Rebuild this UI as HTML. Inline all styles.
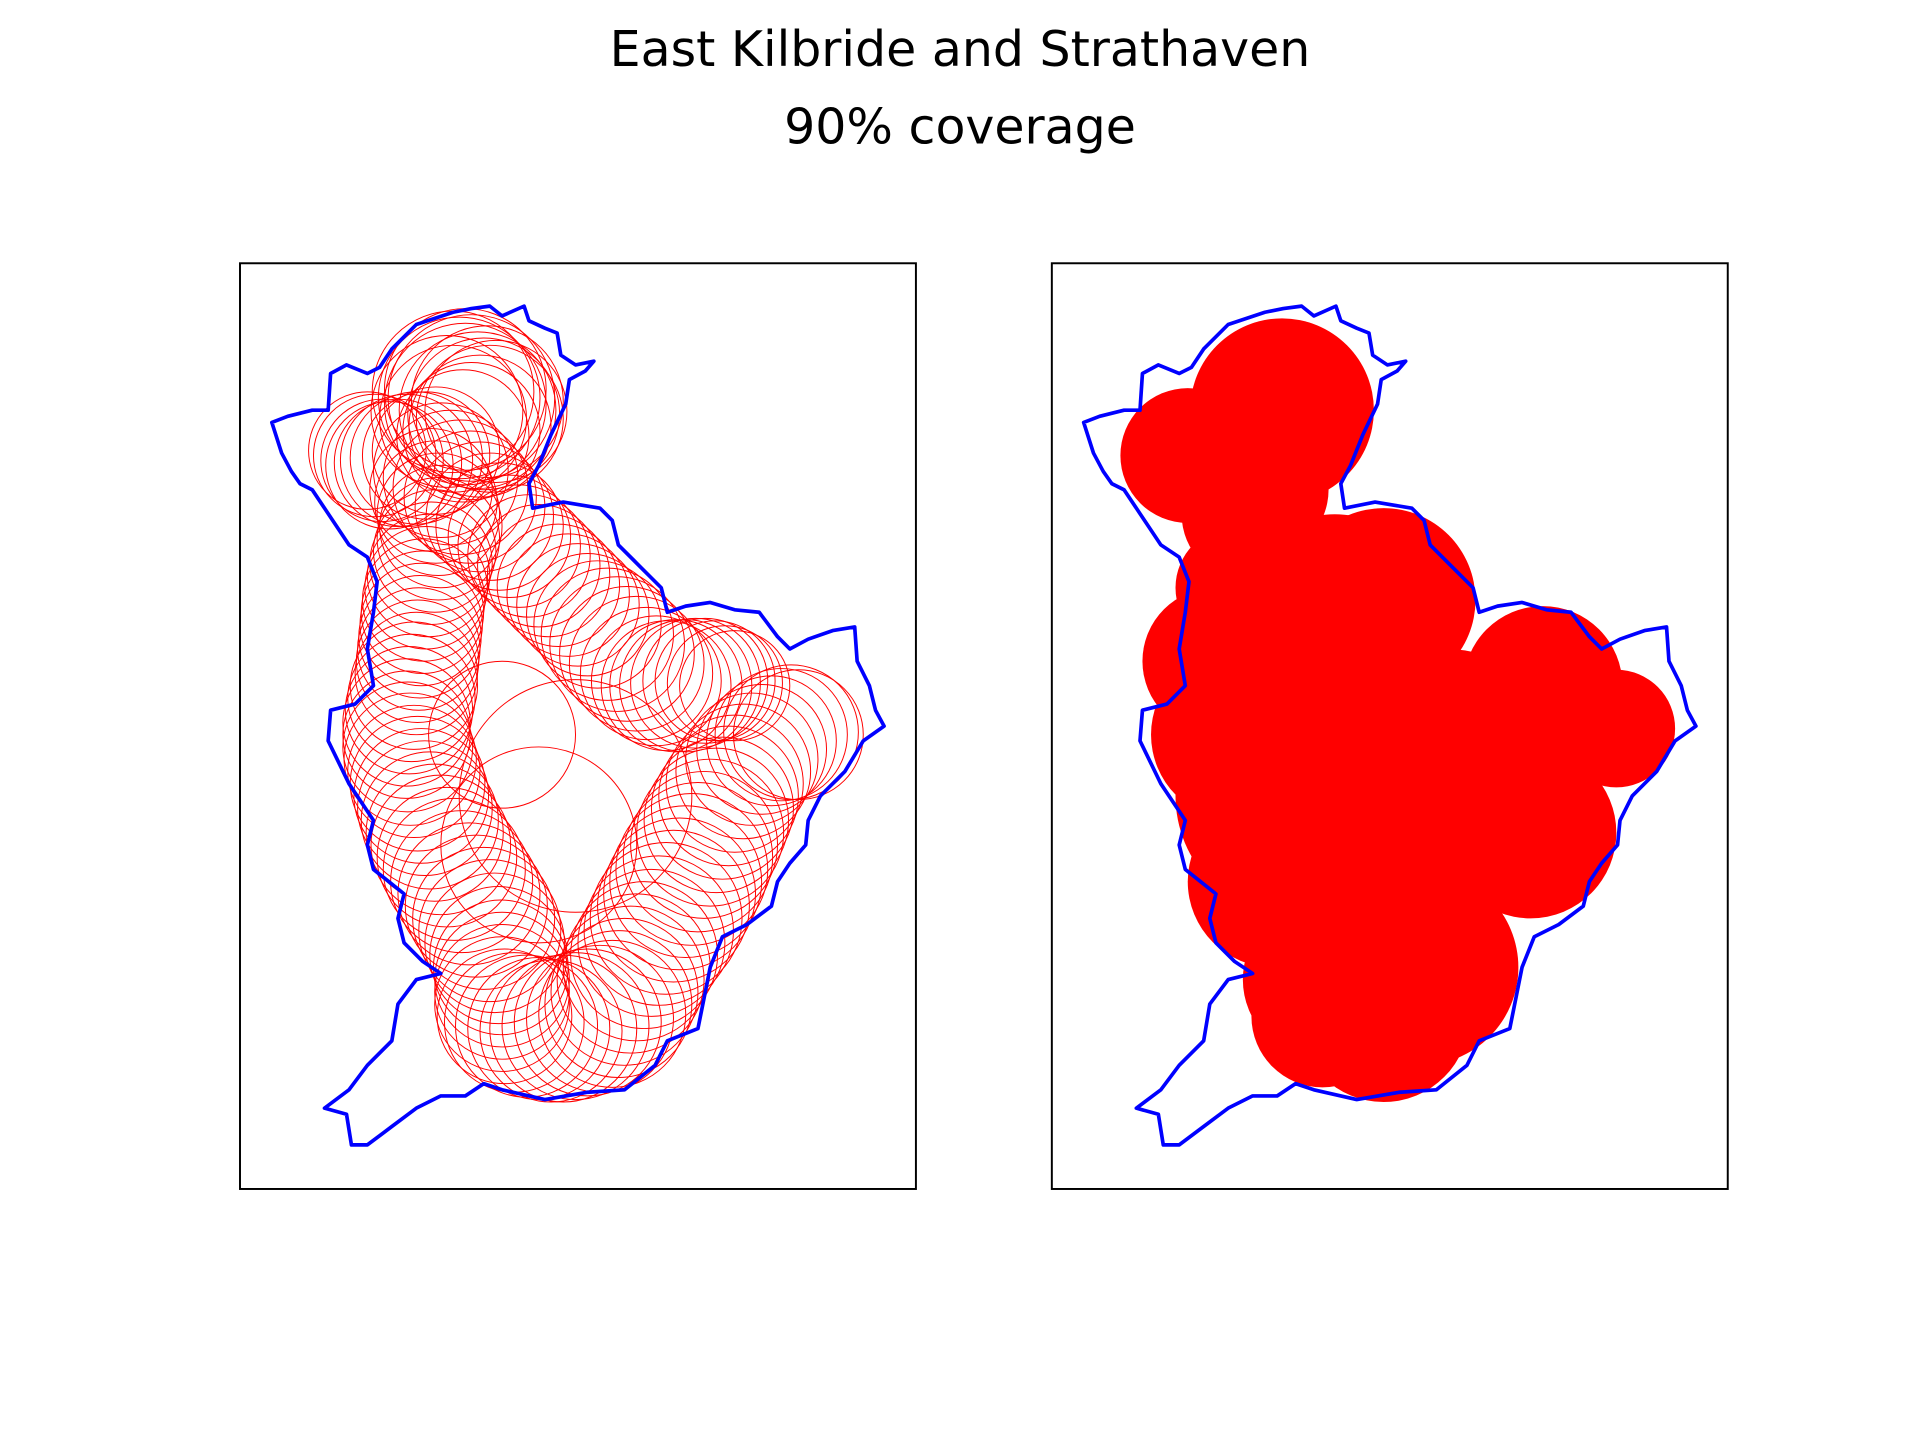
<!DOCTYPE html>
<html><head><meta charset="utf-8"><style>
html,body{margin:0;padding:0;background:#fff}
svg{display:block}
</style></head><body>
<svg id="chart" width="1920" height="1440" viewBox="0 0 1568 1176" xmlns="http://www.w3.org/2000/svg">
<rect width="1568" height="1176" fill="#fff"/>
<text x="784" y="54" text-anchor="middle" font-family="DejaVu Sans, Liberation Sans, sans-serif" font-size="40" fill="#000">East Kilbride and Strathaven</text>
<text x="784" y="117" text-anchor="middle" font-family="DejaVu Sans, Liberation Sans, sans-serif" font-size="40" fill="#000">90% coverage</text>
<g id="p0"></g>
<g id="p1"></g>
</svg>
<script>
// outline of constituency boundary (map units)
const outlineX=[385,400,410,428,432,445,455,458,470,485,478,465,462,450,440,432,435,460,490,500,505,520,540,545,560,580,600,620,635,645,660,680,698,700,710,715,722,705,690,670,660,658,645,635,630,610,590,580,575,570,545,535,510,480,445,410,395,380,360,340,320,300,287,283,265,285,300,320,325,340,360,345,330,325,330,305,300,305,285,268,270,290,305,300,305,308,300,285,275,265,255,245,238,230,222,235,255,268,270,283,300,310,320,340,370];
const outlineY=[252,250,258,250,262,268,272,290,298,295,303,310,330,355,380,395,415,410,415,425,445,460,480,500,495,492,498,500,520,530,522,515,512,540,560,580,593,605,630,650,670,690,705,720,740,755,765,790,815,840,850,870,890,892,898,890,885,895,895,905,920,935,935,910,905,890,870,850,820,800,795,785,770,750,730,710,690,670,640,605,580,575,560,530,500,475,455,445,430,415,400,395,385,370,345,340,335,335,305,298,305,300,285,265,255];
// coverage circles (left panel, outlines)
const circX=[370,375,380,385,390,395,400,405,392,385,378,370,365,380,398,
300,306,312,318,325,332,340,348,356,
352,356,358,360,358,355,352,350,348,346,345,344,343,342,341,340,338,336,334,332,332,333,335,338,341,344,347,351,355,360,365,371,377,383,389,395,400,404,407,409,410,410,410,412,
420,430,440,450,460,470,480,490,500,
505,510,515,520,526,532,538,544,550,555,560,565,570,575,580,585,590,595,600,607,614,622,630,638,646,652,
600,592,584,576,568,560,552,544,536,528,520,512,504,496,488,480,472,464,456,448,440,432,424,416,408,400,392,384,376,368,360,
470,440,410];
const circY=[320,325,330,325,335,338,342,336,348,352,356,342,336,318,328,
368,372,376,380,378,376,374,372,368,
400,410,420,430,440,450,460,470,480,490,500,510,520,530,540,550,560,570,580,590,600,610,620,630,640,650,660,670,680,690,700,710,720,730,740,750,760,770,780,790,800,810,820,830,
835,838,840,842,840,838,835,832,828,
820,810,800,790,780,770,760,750,740,730,720,710,700,690,680,670,660,650,640,630,620,612,605,600,598,600,
560,558,556,556,558,560,560,560,556,550,542,534,526,518,510,502,494,486,478,470,462,454,446,438,430,422,414,406,398,390,384,
650,690,600];
const circR=[66,66,66,68,64,62,60,58,58,56,54,60,62,66,62,
48,50,50,52,52,54,54,52,52,
50,50,50,50,50,50,50,50,50,50,50,50,50,50,50,50,52,52,52,52,52,53,54,54,55,55,55,56,56,57,57,58,58,58,58,58,58,57,56,55,55,55,55,55,
57,58,58,58,60,60,60,60,60,
60,60,60,60,60,60,61,62,62,62,62,62,61,60,60,59,58,57,56,55,54,53,53,54,55,53,
45,47,49,51,53,54,54,53,53,54,55,55,55,54,52,50,50,50,50,50,50,50,50,50,52,52,53,54,55,55,55,
95,80,60];
// filled coverage disks (right panel)
const fillX=[384,307,427,467,597,657,347,397,517,587,377,417,497,417,467,347,357,367,440,560,330];
const fillY=[335,372,500,490,560,595,600,650,640,680,720,800,790,830,830,480,420,400,580,620,540];
const fillR=[75,55,80,75,65,48,70,100,110,70,70,65,80,58,70,50,55,55,100,80,60];

const X0=196,Y0=215,PW=552,PH=756,PANELS=[196,859];
const NS='http://www.w3.org/2000/svg';
const sx=(p,v)=>PANELS[p]+(v-X0);
const sy=v=>Y0+(v-Y0);
function mk(t,a){const e=document.createElementNS(NS,t);for(const k in a)e.setAttribute(k,a[k]);return e;}
for(let p=0;p<2;p++){
  const g=document.getElementById('p'+p);
  const frame=mk('rect',{x:PANELS[p],y:Y0,width:PW,height:PH,fill:'none',stroke:'#000','stroke-width':1.6});
  
  
  g.appendChild(frame);
  if(p===0){
    for(let i=0;i<circX.length;i++){
      const c=mk('circle',{cx:sx(0,circX[i]),cy:sy(circY[i]),r:circR[i],fill:'none',stroke:'#ff0000','stroke-width':0.8});
      
      
      g.appendChild(c);
    }
  } else {
    for(let i=0;i<fillX.length;i++){
      const c=mk('circle',{cx:sx(1,fillX[i]),cy:sy(fillY[i]),r:fillR[i],fill:'#ff0000'});
      
      
      g.appendChild(c);
    }
  }
  const pts=outlineX.map((x,i)=>sx(p,x)+','+sy(outlineY[i])).join(' ');
  const poly=mk('polygon',{points:pts,fill:'none',stroke:'#0000ff','stroke-width':3,'stroke-linejoin':'round'});
  
  
  g.appendChild(poly);
}
</script>
</body></html>
